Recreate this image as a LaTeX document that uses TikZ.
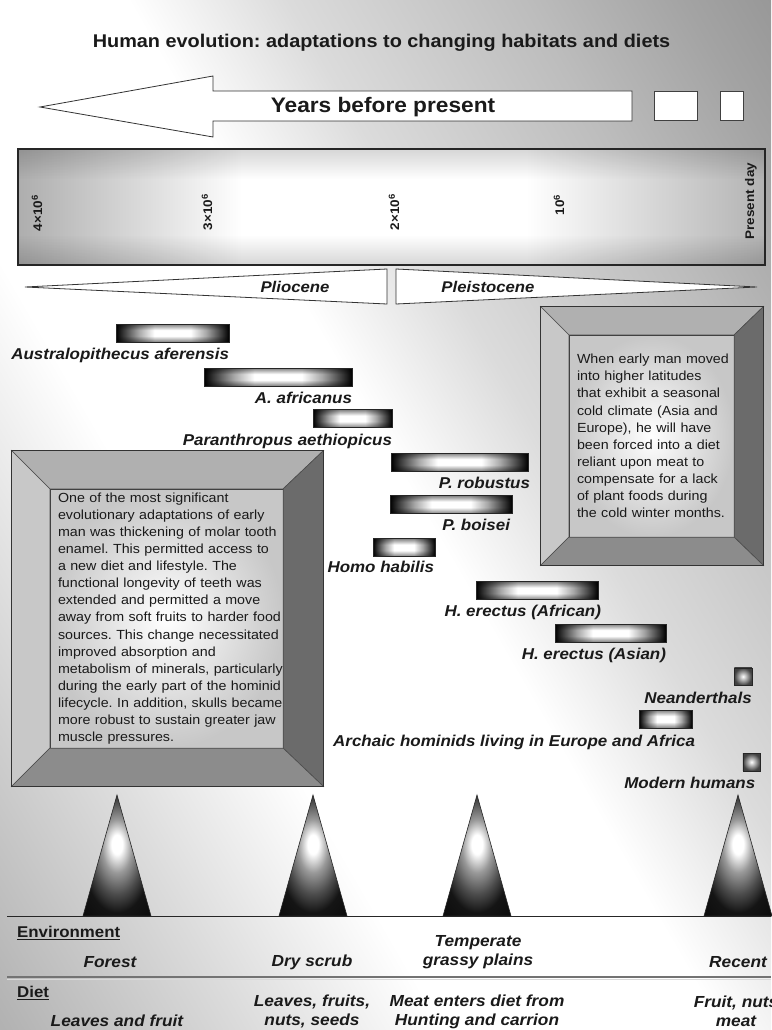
\documentclass[tikz,border=0pt]{standalone}
\usepackage{fontspec}
\setmainfont{Liberation Sans}[FakeStretch=1.08]
\usepackage{xcolor}
\usepackage{tikz}
\usetikzlibrary{positioning}
\frenchspacing
\definecolor{bevtop}{HTML}{B0B0B0}
\definecolor{bevleft}{HTML}{C8C8C8}
\definecolor{bevright}{HTML}{6B6B6B}
\definecolor{bevbottom}{HTML}{8C8C8C}
\definecolor{ink}{HTML}{1A1A1A}
\pgfdeclareverticalshading{backshade}{100bp}{color(0bp)=(black!32); color(16bp)=(black!30); color(28bp)=(black!14); color(38bp)=(white); color(52bp)=(white); color(60bp)=(black!14); color(72bp)=(black!26); color(80bp)=(black!36); color(86bp)=(black!42); color(100bp)=(black!42)}
\pgfdeclarehorizontalshading{barshade}{100bp}{color(0bp)=(black); color(25bp)=(black); color(28bp)=(black!80); color(35bp)=(black!35); color(42bp)=(white); color(58bp)=(white); color(65bp)=(black!35); color(72bp)=(black!80); color(75bp)=(black); color(100bp)=(black)}
\pgfdeclareverticalshading{barvert}{100bp}{color(0bp)=(black!50); color(25bp)=(black!50); color(42bp)=(white); color(58bp)=(white); color(75bp)=(black!50); color(100bp)=(black!50)}
\pgfdeclarehorizontalshading{tlshade}{100bp}{color(0bp)=(black!32); color(25bp)=(black!32); color(40bp)=(white); color(59bp)=(white); color(75bp)=(black!30); color(100bp)=(black!30)}
\pgfdeclareverticalshading{tlvert}{100bp}{color(0bp)=(black!16); color(25bp)=(black!16); color(38bp)=(white); color(62bp)=(white); color(75bp)=(black!16); color(100bp)=(black!16)}
\pgfdeclareradialshading{spikeshade}{\pgfpoint{0bp}{5bp}}{color(0bp)=(white); color(4bp)=(white); color(11bp)=(black!40); color(19bp)=(black!70); color(26bp)=(black!92); color(50bp)=(black)}

\begin{document}
\begin{tikzpicture}[x=1pt, y=-1pt,
  bar/.style={shade, shading=barshade, draw=black!85, inner sep=0pt, minimum height=18pt,
    path picture={\shade[blend mode=multiply, shading=barvert] (path picture bounding box.south west) rectangle (path picture bounding box.north east);}},
  dot/.style={draw=black!85, inner color=white, outer color=black!75, inner sep=0pt, minimum size=17.5pt},
  species/.style={font=\fontsize{15.7}{18}\selectfont\bfseries\itshape, text=ink, inner sep=0pt},
  timeline/.style={shade, shading=tlshade, draw=black!85, line width=1.2pt, inner sep=0pt,
    path picture={\shade[blend mode=multiply, shading=tlvert] (path picture bounding box.south west) rectangle (path picture bounding box.north east);}},
  tick/.style={rotate=90, font=\fontsize{12.5}{14}\selectfont\bfseries, text=ink, inner sep=0pt},
  era/.style={draw=black!80, fill=white, line width=.8pt, line join=miter},
  eralabel/.style={font=\fontsize{15.5}{18}\selectfont\bfseries\itshape, text=ink, inner sep=0pt},
  frame/.style={draw=black!80, line width=1pt, inner sep=0pt},
  face/.style={draw=black!75, inner color=white, outer color=black!22, inner sep=0pt},
  note/.style={align=left, text=ink, font=\fontsize{13.2}{17.1}\selectfont, inner sep=0pt, anchor=west},
  bevel/.style={draw=black!70, line width=.6pt},
  spike/.style={shade, shading=spikeshade, draw=black!85, line width=.6pt},
  habitat/.style={font=\fontsize{16}{19}\selectfont\bfseries\itshape, align=center, text=ink, inner sep=0pt},
  rowhead/.style={font=\fontsize{15.6}{18}\selectfont\bfseries, text=ink, anchor=west, inner sep=0pt}
]
\useasboundingbox (0,0) rectangle (771,1030);
\shade[shading=backshade, shading angle=-60] (0,0) rectangle (771,1030);

\node[font=\fontsize{18.4}{22}\selectfont\bfseries, text=ink] (title) at (381.5,43) {Human evolution: adaptations to changing habitats and diets};

\draw[era] (40,107) -- (213,76) -- (213,91) -- (632,91) -- (632,121) -- (213,121) -- (213,137) -- cycle;
\node[font=\fontsize{21}{24}\selectfont\bfseries, text=ink] (years) at (383,107) {Years before present};
\node[draw=black!75, fill=white, minimum width=43pt, minimum height=29pt] (gap1) at (675.5,106) {};
\node[draw=black!75, fill=white, minimum width=23pt, minimum height=29pt] (gap2) at (731.5,106) {};

\node[timeline, minimum width=747pt, minimum height=116pt] (tl) at (391.5,207) {};
\node[tick] (t4) at (37,213) {4×10\textsuperscript{6}};
\node[tick] (t3) at (207,212) {3×10\textsuperscript{6}};
\node[tick] (t2) at (394,212) {2×10\textsuperscript{6}};
\node[tick] (t1) at (559,205) {10\textsuperscript{6}};
\node[tick] (t0) at (751,201) {Present day};

\draw[era] (25,287) -- (387,269) -- (387,304) -- cycle;
\draw[era] (396,269) -- (757,287) -- (396,304) -- cycle;
\node[eralabel] (plio) at (295,287) {Pliocene};
\node[eralabel] (pleis) at (488,287) {Pleistocene};

\node[bar, minimum width=113pt] (b1) at (172.5,333) {};
\node[bar, minimum width=148pt] (b2) at (278,377) {};
\node[bar, minimum width=79pt] (b3) at (352.5,418.5) {};
\node[bar, minimum width=137pt] (b4) at (459.5,462) {};
\node[bar, minimum width=122pt] (b5) at (451,504.5) {};
\node[bar, minimum width=62pt] (b6) at (404,547.5) {};
\node[bar, minimum width=122pt] (b7) at (537,590.5) {};
\node[bar, minimum width=111pt] (b8) at (610.5,633) {};
\node[dot] (b9) at (743,676.5) {};
\node[bar, minimum width=53pt] (b10) at (665.5,719) {};
\node[dot] (b11) at (751.5,762) {};
\node[species, below left=5.5pt and 0pt of b1.south east] (l1) {Australopithecus aferensis};
\node[species, below left=5.5pt and 0pt of b2.south east] (l2) {A. africanus};
\node[species, below left=6pt and 0pt of b3.south east] (l3) {Paranthropus aethiopicus};
\node[species, below left=6pt and -2pt of b4.south east] (l4) {P. robustus};
\node[species, below left=5.5pt and 2pt of b5.south east] (l5) {P. boisei};
\node[species, below left=4.5pt and 1pt of b6.south east] (l6) {Homo habilis};
\node[species, below left=5.5pt and -3pt of b7.south east] (l7) {H. erectus (African)};
\node[species, below left=5.5pt and 0pt of b8.south east] (l8) {H. erectus (Asian)};
\node[species, below left=6pt and 0pt of b9.south east] (l9) {Neanderthals};
\node[species, below left=7pt and -3pt of b10.south east] (l10) {Archaic hominids living in Europe and Africa};
\node[species, below left=6pt and 5pt of b11.south east] (l11) {Modern humans};

\node[frame, minimum width=311pt, minimum height=335pt] (lframe) at (167.5,618.5) {};
\node[face, minimum width=233pt, minimum height=259pt] (lface) at (166.5,618.5) {};
\filldraw[bevel, fill=bevtop] (lframe.north west) -- (lframe.north east) -- (lface.north east) -- (lface.north west) -- cycle;
\filldraw[bevel, fill=bevleft] (lframe.north west) -- (lface.north west) -- (lface.south west) -- (lframe.south west) -- cycle;
\filldraw[bevel, fill=bevright] (lframe.north east) -- (lframe.south east) -- (lface.south east) -- (lface.north east) -- cycle;
\filldraw[bevel, fill=bevbottom] (lframe.south west) -- (lface.south west) -- (lface.south east) -- (lframe.south east) -- cycle;
\draw[frame] (lframe.north west) rectangle (lframe.south east);
\node[note, text width=230pt] (lnote) at ([xshift=8pt]lface.west) {One of the most significant\\evolutionary adaptations of early\\man was thickening of molar tooth\\enamel. This permitted access to\\a new diet and lifestyle. The\\functional longevity of teeth was\\extended and permitted a move\\away from soft fruits to harder food\\sources. This change necessitated\\improved absorption and\\metabolism of minerals, particularly\\during the early part of the hominid\\lifecycle. In addition, skulls became\\more robust to sustain greater jaw\\muscle pressures.};

\node[frame, minimum width=222pt, minimum height=258pt] (rframe) at (652,436) {};
\node[face, minimum width=165pt, minimum height=202pt] (rface) at (651.5,436) {};
\filldraw[bevel, fill=bevtop] (rframe.north west) -- (rframe.north east) -- (rface.north east) -- (rface.north west) -- cycle;
\filldraw[bevel, fill=bevleft] (rframe.north west) -- (rface.north west) -- (rface.south west) -- (rframe.south west) -- cycle;
\filldraw[bevel, fill=bevright] (rframe.north east) -- (rframe.south east) -- (rface.south east) -- (rface.north east) -- cycle;
\filldraw[bevel, fill=bevbottom] (rframe.south west) -- (rface.south west) -- (rface.south east) -- (rframe.south east) -- cycle;
\draw[frame] (rframe.north west) rectangle (rframe.south east);
\node[note, text width=160pt] (rnote) at ([xshift=8pt]rface.west) {When early man moved\\into higher latitudes\\that exhibit a seasonal\\cold climate (Asia and\\Europe), he will have\\been forced into a diet\\reliant upon meat to\\compensate for a lack\\of plant foods during\\the cold winter months.};

\foreach \x in {117,313,477,738}
  \path[spike] (\x,795) -- (\x+34,916) -- (\x-34,916) -- cycle;

\draw[black!85, line width=1pt] (7,916) -- (771,916);
\draw[black!55, line width=1.2pt] (7,977) -- (771,977);
\draw[white!85!black, line width=1pt] (7,979) -- (771,979);

\node[rowhead] (envhead) at (17,933) {\underline{Environment}};
\node[habitat] (forest) at (110,962) {Forest};
\node[habitat] (scrub) at (312,962) {Dry scrub};
\node[habitat] (plains) at (478,952) {Temperate\\grassy plains};
\node[habitat] (recent) at (738,962) {Recent};
\node[rowhead] (diethead) at (17,993) {\underline{Diet}};
\node[habitat] (leaves) at (117,1021) {Leaves and fruit};
\node[habitat] (seeds) at (312,1011.5) {Leaves, fruits,\\nuts, seeds};
\node[habitat] (carrion) at (477,1011.5) {Meat enters diet from\\Hunting and carrion};
\node[habitat] (meat) at (736,1011.5) {Fruit, nuts\\meat};
\end{tikzpicture}
\end{document}
